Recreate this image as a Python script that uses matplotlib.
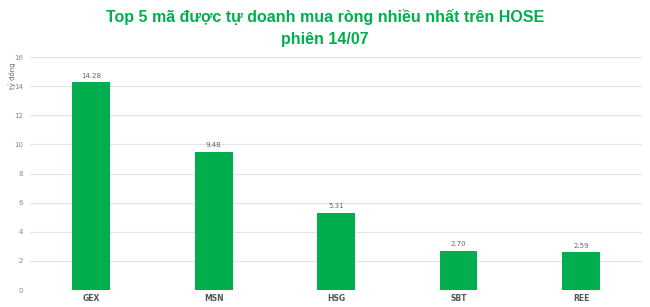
import numpy as np
import matplotlib.pyplot as plt

# data
tickers = ['GEX', 'MSN', 'HSG', 'SBT', 'REE']
values = [14.28, 9.48, 5.31, 2.70, 2.59]
yticks = [0, 2, 4, 6, 8, 10, 12, 14, 16]

green = '#00AE4D'

fig = plt.figure(figsize=(6.5, 3.07), dpi=100)
ax = fig.add_axes([0.046, 0.055, 0.942, 0.759])

x = np.arange(len(tickers))
ax.bar(x, values, width=0.31, color=green, zorder=3)
for xi, v in zip(x, values):
    ax.text(xi, v + 0.25, '%.2f' % v, ha='center', va='bottom',
            fontsize=5, color='#666666')

ax.set_xlim(-0.5, len(tickers) - 0.5)
ax.set_ylim(0, 16)
ax.set_yticks(yticks)
ax.set_yticklabels([str(t) for t in yticks])
ax.set_xticks(x)
ax.set_xticklabels(tickers, fontsize=5.5, color='#555555', fontweight='bold')
ax.tick_params(axis='y', labelsize=5, colors='#888888', length=0, pad=5)
ax.tick_params(axis='x', length=0, pad=3)
ax.grid(axis='y', color='#e3e3e3', linewidth=0.8, zorder=0)
for s in ax.spines.values():
    s.set_visible(False)

fig.text(0.018, 0.752, 'tỷ đồng', rotation=90, fontsize=5, color='#666666',
         ha='center', va='center')

fig.suptitle('Top 5 mã được tự doanh mua ròng nhiều nhất trên HOSE\nphiên 14/07',
             y=0.97, fontsize=11.5, fontweight='bold', color=green,
             family='Liberation Sans', linespacing=1.6)

fig.savefig('out.png', dpi=100)
